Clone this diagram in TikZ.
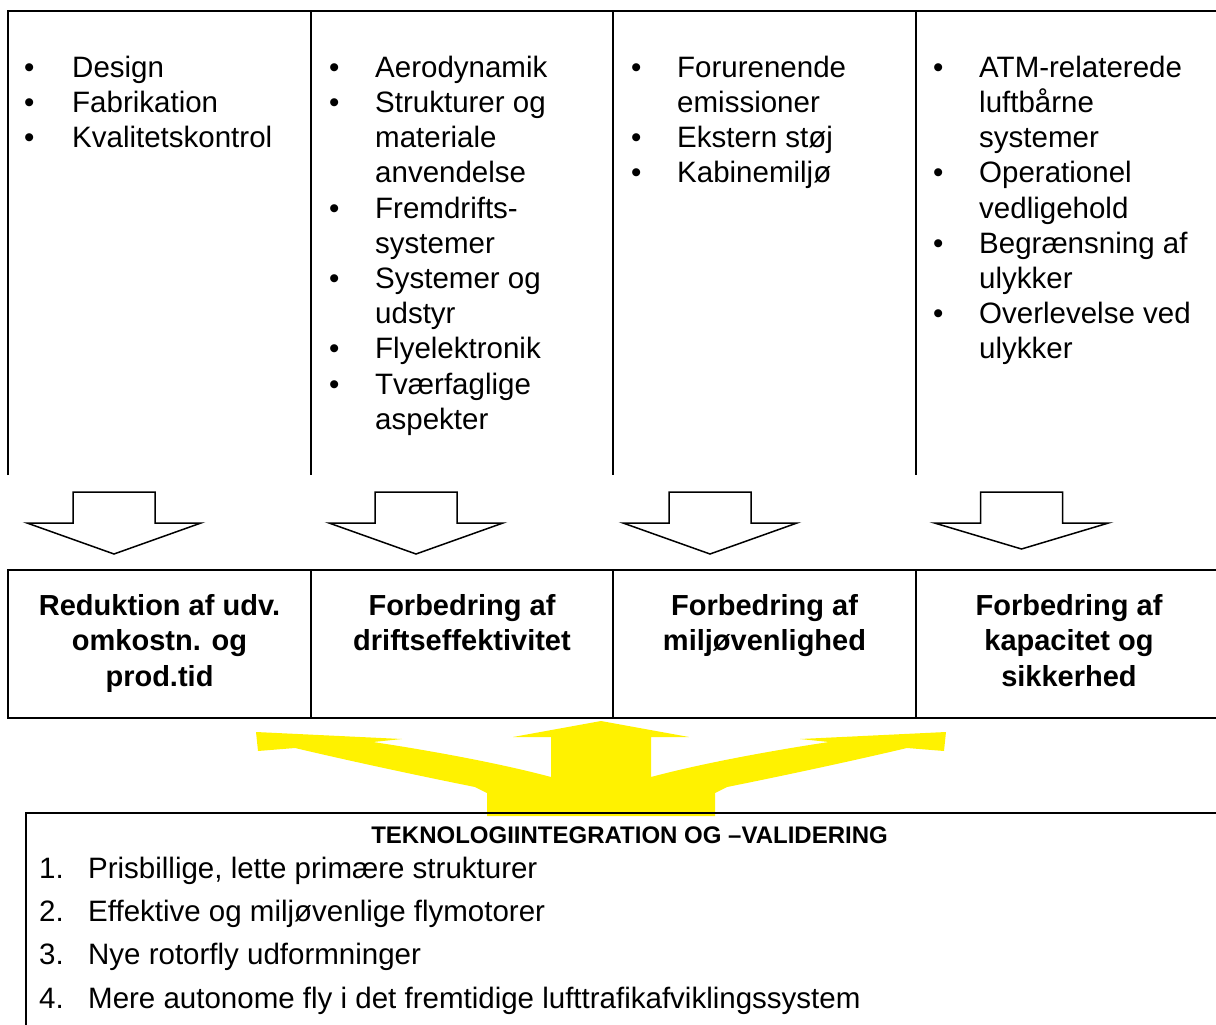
\documentclass[tikz,border=0pt]{standalone}
\usepackage{fontspec}
\setmainfont{Liberation Sans}
\usepackage{tikz}
\usetikzlibrary{positioning}

\tikzset{
  frame/.style={line width=2pt},
  goalcell/.style={draw, line width=2.2pt, minimum width=#1, minimum height=148pt, inner sep=0pt},
  listcol/.style={anchor=north west, inner sep=0pt, font=\fontsize{29.5}{35.2}\selectfont},
  goaltext/.style={anchor=north, inner sep=0pt, font=\fontsize{29}{35.5}\selectfont\bfseries},
  blockarrow/.style={draw, line width=1.5pt, fill=white, line join=miter},
  pics/blockdown/.style={code={
    \draw[blockarrow] (-41,0) -- (41,0) -- (41,31) -- (87,31) -- (0,#1) -- (-87,31) -- (-41,31) -- cycle;}},
  pics/blockdown/.default=62,
}

\begin{document}
\begin{tikzpicture}[x=1pt, y=-1pt]
\useasboundingbox (0,0) rectangle (1216,1025);
% Research areas, open table at the top
\draw[frame] (8,475) -- (8,11) -- (1222,11);
\draw[frame] (311,11) -- (311,475);
\draw[frame] (613,11) -- (613,475);
\draw[frame] (916,11) -- (916,475);
\node[listcol] (design) at (23.8,52.4) {\begin{tabular}{@{}l@{\hspace{37.9pt}}l@{}}
• & Design\\
• & Fabrikation\\
• & Kvalitetskontrol
\end{tabular}};
\node[listcol] (aero) at (328.9,52.4) {\begin{tabular}{@{}l@{\hspace{35.8pt}}l@{}}
• & Aerodynamik\\
• & Strukturer og\\
  & materiale\\
  & anvendelse\\
• & Fremdrifts-\\
  & systemer\\
• & Systemer og\\
  & udstyr\\
• & Flyelektronik\\
• & Tværfaglige\\
  & aspekter
\end{tabular}};
\node[listcol] (emis) at (630.9,52.4) {\begin{tabular}{@{}l@{\hspace{35.8pt}}l@{}}
• & Forurenende\\
  & emissioner\\
• & Ekstern støj\\
• & Kabinemiljø
\end{tabular}};
\node[listcol] (atm) at (932.9,52.4) {\begin{tabular}{@{}l@{\hspace{35.8pt}}l@{}}
• & ATM-relaterede\\
  & luftbårne\\
  & systemer\\
• & Operationel\\
  & vedligehold\\
• & Begrænsning af\\
  & ulykker\\
• & Overlevelse ved\\
  & ulykker
\end{tabular}};
% block arrows down to the goals
\pic (a1) at (114,492) {blockdown};
\pic (a2) at (416,492) {blockdown};
\pic (a3) at (710,492) {blockdown};
\pic (a4) at (1021.5,492) {blockdown=57};
% goals
\node[goalcell=303pt] (g1) at (159.5,644) {};
\node[goalcell=302pt] (g2) at (462,644) {};
\node[goalcell=303pt] (g3) at (764.5,644) {};
\node[goalcell=306pt] (g4) at (1069,644) {};
\node[goaltext, below=21.2pt of g1.north] (t1) {\begin{tabular}{@{}c@{}}Reduktion af udv.\\omkostn. og\\prod.tid\end{tabular}};
\node[goaltext, below=21.2pt of g2.north] (t2) {\begin{tabular}{@{}c@{}}Forbedring af\\driftseffektivitet\end{tabular}};
\node[goaltext, below=21.2pt of g3.north] (t3) {\begin{tabular}{@{}c@{}}Forbedring af\\miljøvenlighed\end{tabular}};
\node[goaltext, below=21.2pt of g4.north] (t4) {\begin{tabular}{@{}c@{}}Forbedring af\\kapacitet og\\sikkerhed\end{tabular}};
% yellow arrow from integration up to the goals
\fill[yellow] (487,816) -- (487,793) -- (475,787)
  .. controls (420,776) and (350,761) .. (295,748)
  -- (258,751) -- (256,732) -- (402,739) -- (373,742)
  .. controls (420,749) and (495,762) .. (551,777)
  -- (551,737) -- (513,737) -- (601,721) -- (689,737) -- (651,737) -- (651,777)
  .. controls (707,762) and (782,749) .. (829,742)
  -- (800,739) -- (946,732) -- (944,751) -- (907,748)
  .. controls (852,761) and (782,776) .. (727,787)
  -- (715,793) -- (715,816) -- cycle;
% integration and validation
\draw[line width=2.6pt] (26,1030) -- (26,813) -- (1222,813);
\node[anchor=base, inner sep=0pt, font=\fontsize{24}{28}\selectfont\bfseries] (intg) at (629.5,843) {TEKNOLOGIINTEGRATION OG –VALIDERING};
\node[anchor=north west, inner sep=0pt, font=\fontsize{29.5}{43.3}\selectfont] (demo) at (39,847.7) {\begin{tabular}{@{}l@{\hspace{24.4pt}}l@{}}
1. & Prisbillige, lette primære strukturer\\
2. & Effektive og miljøvenlige flymotorer\\
3. & Nye rotorfly udformninger\\
4. & Mere autonome fly i det fremtidige lufttrafikafviklingssystem
\end{tabular}};
\end{tikzpicture}
\end{document}
